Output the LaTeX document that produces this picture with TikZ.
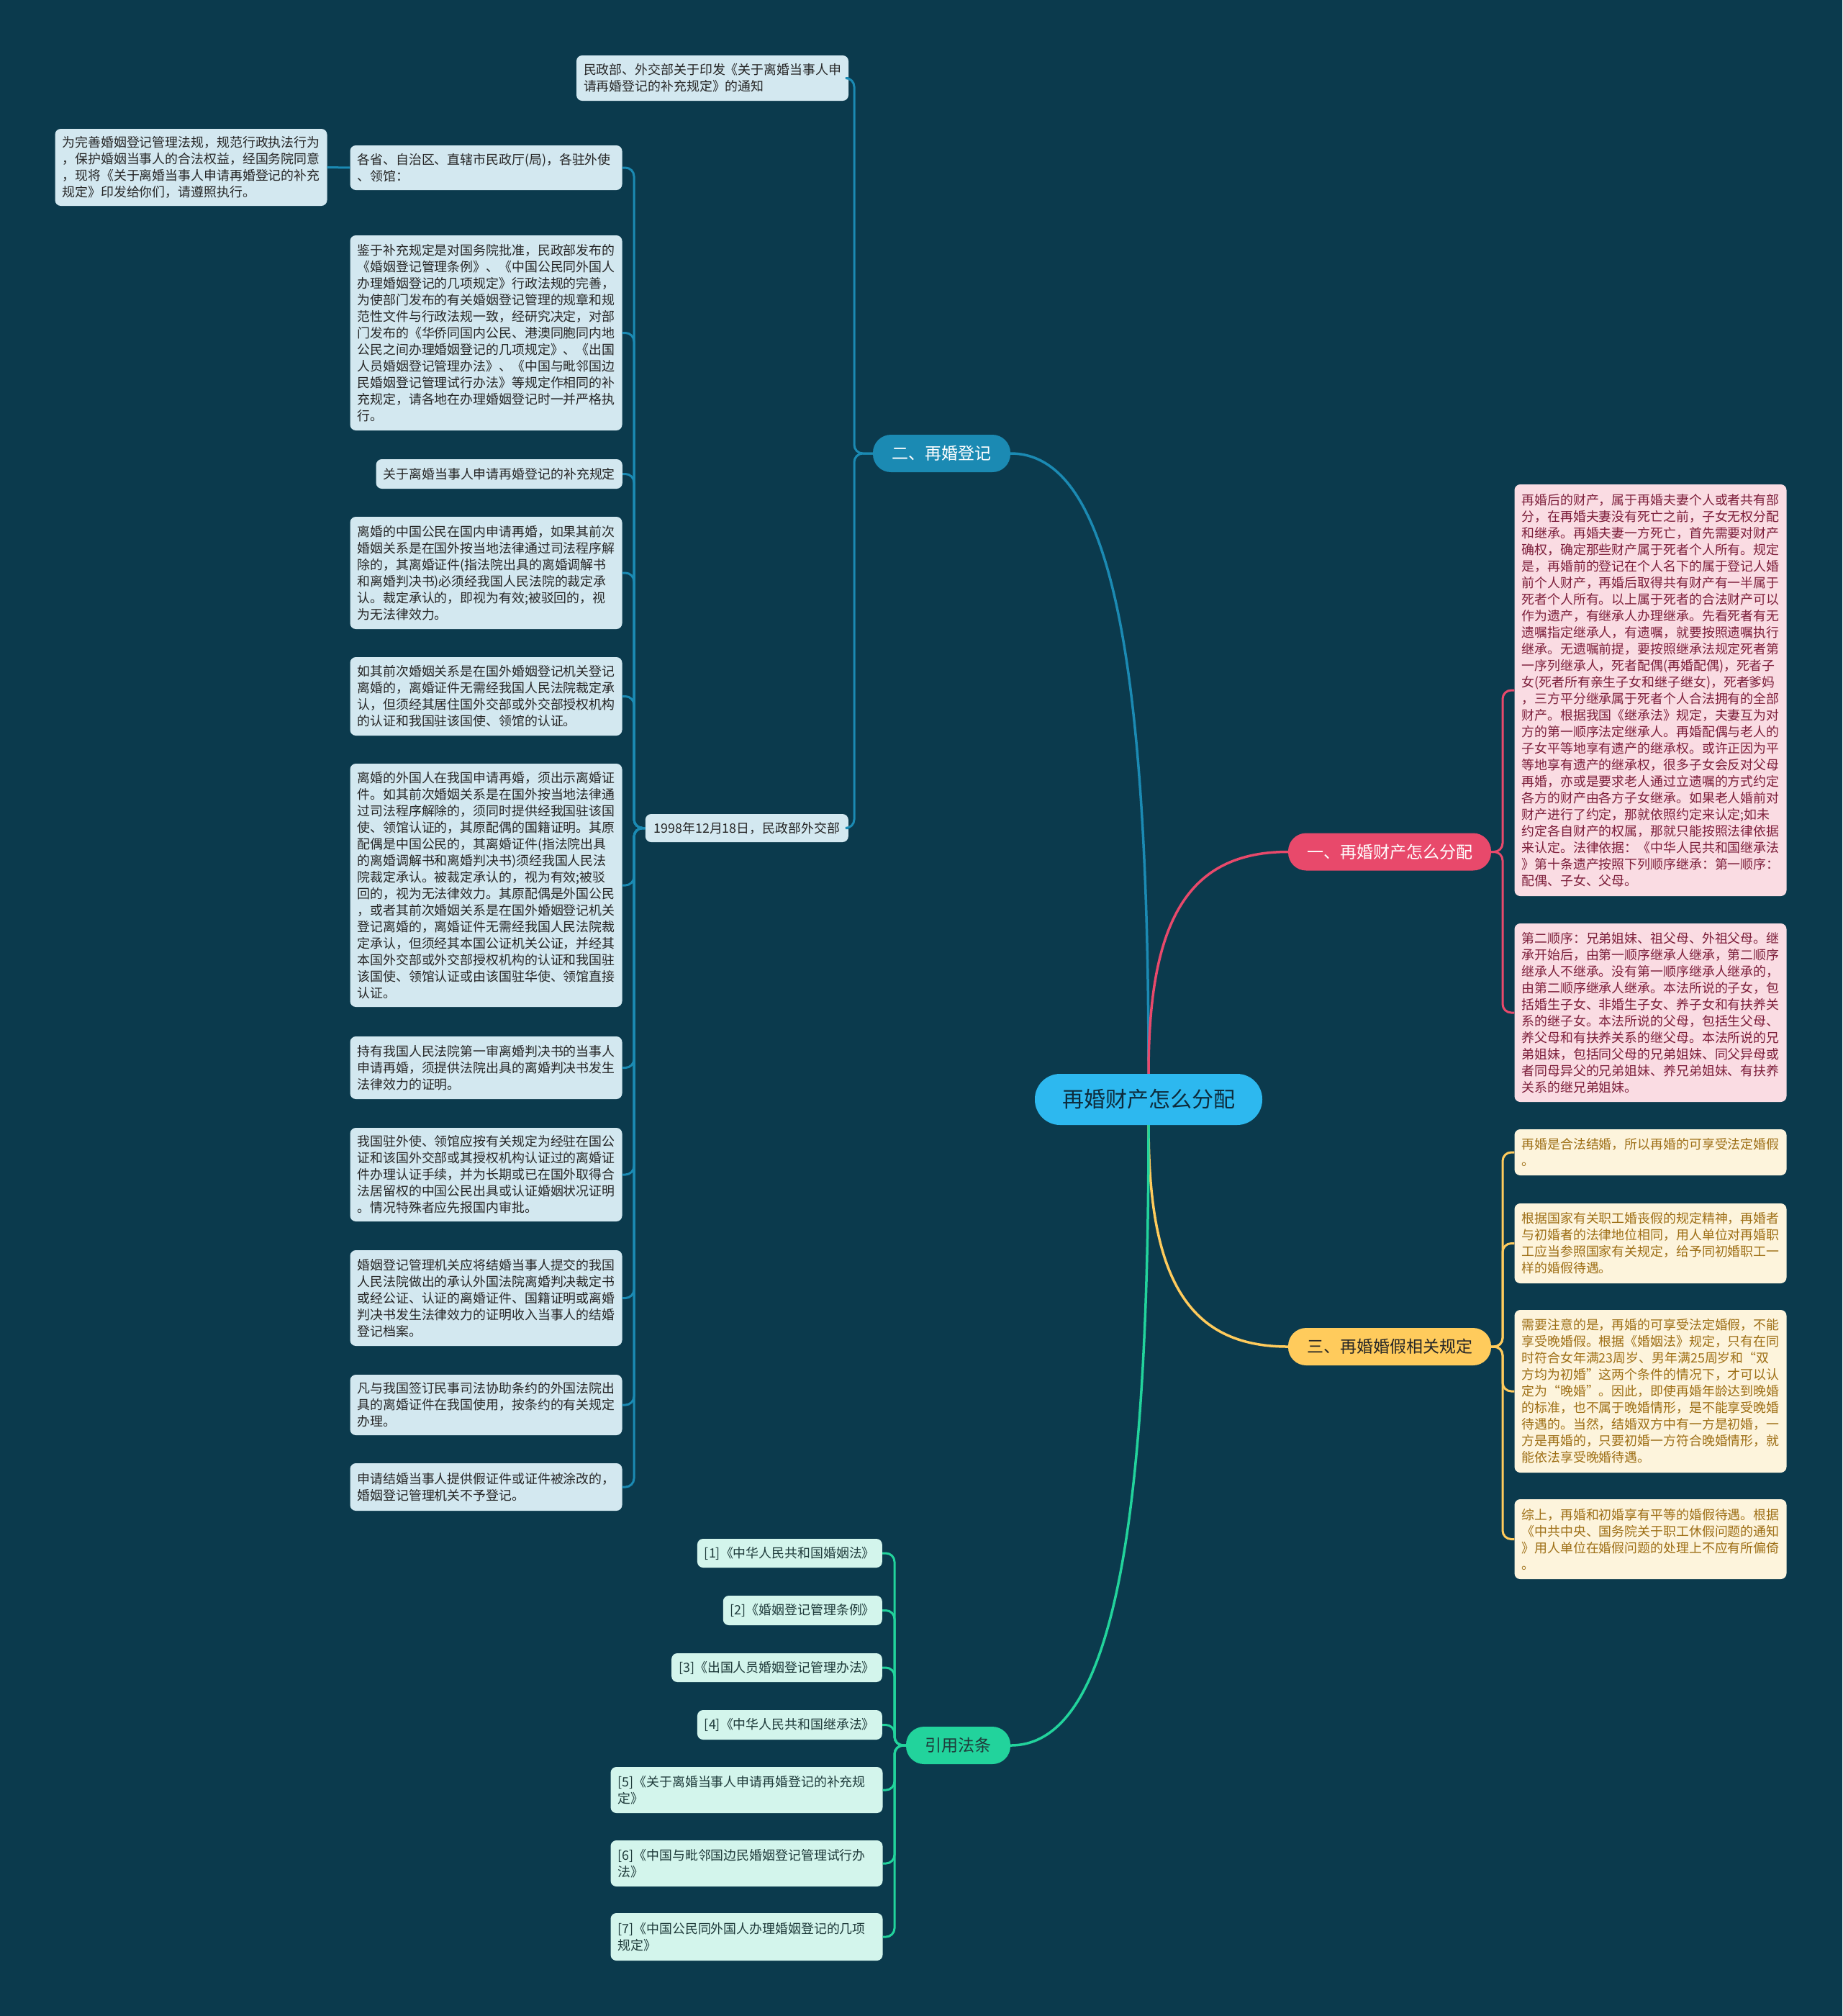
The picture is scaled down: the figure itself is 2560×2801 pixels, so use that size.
\documentclass[tikz,border=0pt]{standalone}
\usepackage{fontspec}
\newfontfamily\cjk{Noto Sans CJK SC}
\definecolor{bg}{HTML}{0B3A4D}
\definecolor{bfill}{HTML}{D3E8F0}
\definecolor{btext}{HTML}{262626}
\definecolor{bline}{HTML}{1B8AB3}
\definecolor{pfill}{HTML}{FADCE3}
\definecolor{ptext}{HTML}{7D1F3B}
\definecolor{pline}{HTML}{E8496B}
\definecolor{yfill}{HTML}{FDF4DC}
\definecolor{ytext}{HTML}{9E6F16}
\definecolor{yline}{HTML}{FFCB5C}
\definecolor{gfill}{HTML}{D3F5EC}
\definecolor{gtext}{HTML}{1F3B3B}
\definecolor{gline}{HTML}{22D39C}
\definecolor{cfill}{HTML}{2DB8EF}
\definecolor{ctext}{HTML}{0D2B3B}
\tikzset{
  box/.style={rounded corners=8pt, inner xsep=10pt, inner ysep=0pt,
    font=\cjk\fontsize{17.9}{23}\selectfont, align=left},
  wide/.style={text width=358pt, minimum width=378pt},
  bluebox/.style={box, fill=bfill, text=btext},
  pinkbox/.style={box, wide, fill=pfill, text=ptext},
  yelbox/.style={box, wide, fill=yfill, text=ytext},
  grnbox/.style={box, fill=gfill, text=gtext},
  branch/.style={rounded corners=25pt, inner sep=0pt, minimum height=52pt,
    font=\cjk\fontsize{23}{26}\selectfont},
  mainline/.style={line width=3.5pt},
  subline/.style={line width=3pt, rounded corners=12pt},
}
\begin{document}
\begin{tikzpicture}[x=1pt,y=-1pt]
\fill[bg] (0,0) rectangle (2560,2801);
\useasboundingbox (0,0) rectangle (2560,2801);

% center and branches
\node[rounded corners=35pt, fill=cfill, text=ctext, minimum width=316pt, minimum height=71pt,
  inner sep=0pt, font=\cjk\fontsize{30}{34}\selectfont] (c) at (1596,1527.5) {再婚财产怎么分配};
\node[branch, fill=bline, text=white, minimum width=191pt] (b2) at (1308.5,630) {二、再婚登记};
\node[branch, fill=pline, text=white, minimum width=282pt] (b1) at (1931,1183.5) {一、再婚财产怎么分配};
\node[branch, fill=yline, text=btext, minimum width=282pt] (b3) at (1931,1871) {三、再婚婚假相关规定};
\node[branch, fill=gline, text=gtext, minimum width=145pt] (g) at (1331.5,2425) {引用法条};

% blue side
\node[bluebox, wide, minimum height=63pt] (mz) at (990,108.5) {民政部、外交部关于印发《关于离婚当事人申\\请再婚登记的补充规定》的通知};
\node[bluebox, anchor=east, minimum height=39pt, minimum width=282pt] (lab) at (1179,1150.5) {1998年12月18日，民政部外交部};
\node[bluebox, wide, minimum height=107pt] (wh) at (265.5,232.5) {为完善婚姻登记管理法规，规范行政执法行为\\，保护婚姻当事人的合法权益，经国务院同意\\，现将《关于离婚当事人申请再婚登记的补充\\规定》印发给你们，请遵照执行。};
\node[bluebox, wide, minimum height=62pt] (gs) at (675.5,233) {各省、自治区、直辖市民政厅(局)，各驻外使\\、领馆：};
\node[bluebox, wide, minimum height=271pt] (jy) at (675.5,462.5) {鉴于补充规定是对国务院批准，民政部发布的\\《婚姻登记管理条例》、《中国公民同外国人\\办理婚姻登记的几项规定》行政法规的完善，\\为使部门发布的有关婚姻登记管理的规章和规\\范性文件与行政法规一致，经研究决定，对部\\门发布的《华侨同国内公民、港澳同胞同内地\\公民之间办理婚姻登记的几项规定》、《出国\\人员婚姻登记管理办法》、《中国与毗邻国边\\民婚姻登记管理试行办法》等规定作相同的补\\充规定，请各地在办理婚姻登记时一并严格执\\行。};
\node[bluebox, anchor=east, minimum height=41pt] (gy) at (865,658.5) {关于离婚当事人申请再婚登记的补充规定};
\node[bluebox, wide, minimum height=156pt] (lz) at (675.5,796) {离婚的中国公民在国内申请再婚，如果其前次\\婚姻关系是在国外按当地法律通过司法程序解\\除的，其离婚证件(指法院出具的离婚调解书\\和离婚判决书)必须经我国人民法院的裁定承\\认。裁定承认的，即视为有效;被驳回的，视\\为无法律效力。};
\node[bluebox, wide, minimum height=109pt] (rq) at (675.5,967.5) {如其前次婚姻关系是在国外婚姻登记机关登记\\离婚的，离婚证件无需经我国人民法院裁定承\\认，但须经其居住国外交部或外交部授权机构\\的认证和我国驻该国使、领馆的认证。};
\node[bluebox, wide, minimum height=338pt] (lw) at (675.5,1230) {离婚的外国人在我国申请再婚，须出示离婚证\\件。如其前次婚姻关系是在国外按当地法律通\\过司法程序解除的，须同时提供经我国驻该国\\使、领馆认证的，其原配偶的国籍证明。其原\\配偶是中国公民的，其离婚证件(指法院出具\\的离婚调解书和离婚判决书)须经我国人民法\\院裁定承认。被裁定承认的，视为有效;被驳\\回的，视为无法律效力。其原配偶是外国公民\\，或者其前次婚姻关系是在国外婚姻登记机关\\登记离婚的，离婚证件无需经我国人民法院裁\\定承认，但须经其本国公证机关公证，并经其\\本国外交部或外交部授权机构的认证和我国驻\\该国使、领馆认证或由该国驻华使、领馆直接\\认证。};
\node[bluebox, wide, minimum height=87pt] (cy) at (675.5,1483.5) {持有我国人民法院第一审离婚判决书的当事人\\申请再婚，须提供法院出具的离婚判决书发生\\法律效力的证明。};
\node[bluebox, wide, minimum height=130pt] (wg) at (675.5,1632) {我国驻外使、领馆应按有关规定为经驻在国公\\证和该国外交部或其授权机构认证过的离婚证\\件办理认证手续，并为长期或已在国外取得合\\法居留权的中国公民出具或认证婚姻状况证明\\。情况特殊者应先报国内审批。};
\node[bluebox, wide, minimum height=133pt] (hy) at (675.5,1803.5) {婚姻登记管理机关应将结婚当事人提交的我国\\人民法院做出的承认外国法院离婚判决裁定书\\或经公证、认证的离婚证件、国籍证明或离婚\\判决书发生法律效力的证明收入当事人的结婚\\登记档案。};
\node[bluebox, wide, minimum height=84pt] (fy) at (675.5,1952) {凡与我国签订民事司法协助条约的外国法院出\\具的离婚证件在我国使用，按条约的有关规定\\办理。};
\node[bluebox, wide, minimum height=66pt] (sq) at (675.5,2066) {申请结婚当事人提供假证件或证件被涂改的，\\婚姻登记管理机关不予登记。};

% pink side
\node[pinkbox, minimum height=572pt] (p1) at (2293.5,959) {再婚后的财产，属于再婚夫妻个人或者共有部\\分，在再婚夫妻没有死亡之前，子女无权分配\\和继承。再婚夫妻一方死亡，首先需要对财产\\确权，确定那些财产属于死者个人所有。规定\\是，再婚前的登记在个人名下的属于登记人婚\\前个人财产，再婚后取得共有财产有一半属于\\死者个人所有。以上属于死者的合法财产可以\\作为遗产，有继承人办理继承。先看死者有无\\遗嘱指定继承人，有遗嘱，就要按照遗嘱执行\\继承。无遗嘱前提，要按照继承法规定死者第\\一序列继承人，死者配偶(再婚配偶)，死者子\\女(死者所有亲生子女和继子继女)，死者爹妈\\，三方平分继承属于死者个人合法拥有的全部\\财产。根据我国《继承法》规定，夫妻互为对\\方的第一顺序法定继承人。再婚配偶与老人的\\子女平等地享有遗产的继承权。或许正因为平\\等地享有遗产的继承权，很多子女会反对父母\\再婚，亦或是要求老人通过立遗嘱的方式约定\\各方的财产由各方子女继承。如果老人婚前对\\财产进行了约定，那就依照约定来认定;如未\\约定各自财产的权属，那就只能按照法律依据\\来认定。法律依据：《中华人民共和国继承法\\》第十条遗产按照下列顺序继承：第一顺序：\\配偶、子女、父母。};
\node[pinkbox, minimum height=248pt] (p2) at (2293.5,1407) {第二顺序：兄弟姐妹、祖父母、外祖父母。继\\承开始后，由第一顺序继承人继承，第二顺序\\继承人不继承。没有第一顺序继承人继承的，\\由第二顺序继承人继承。本法所说的子女，包\\括婚生子女、非婚生子女、养子女和有扶养关\\系的继子女。本法所说的父母，包括生父母、\\养父母和有扶养关系的继父母。本法所说的兄\\弟姐妹，包括同父母的兄弟姐妹、同父异母或\\者同母异父的兄弟姐妹、养兄弟姐妹、有扶养\\关系的继兄弟姐妹。};

% yellow side
\node[yelbox, minimum height=64pt] (y1) at (2293.5,1601) {再婚是合法结婚，所以再婚的可享受法定婚假\\。};
\node[yelbox, minimum height=111pt] (y2) at (2293.5,1727.5) {根据国家有关职工婚丧假的规定精神，再婚者\\与初婚者的法律地位相同，用人单位对再婚职\\工应当参照国家有关规定，给予同初婚职工一\\样的婚假待遇。};
\node[yelbox, minimum height=226pt] (y3) at (2293.5,1933) {需要注意的是，再婚的可享受法定婚假，不能\\享受晚婚假。根据《婚姻法》规定，只有在同\\时符合女年满23周岁、男年满25周岁和“双\\方均为初婚”这两个条件的情况下，才可以认\\定为“晚婚”。因此，即使再婚年龄达到晚婚\\的标准，也不属于晚婚情形，是不能享受晚婚\\待遇的。当然，结婚双方中有一方是初婚，一\\方是再婚的，只要初婚一方符合晚婚情形，就\\能依法享受晚婚待遇。};
\node[yelbox, minimum height=111pt] (y4) at (2293.5,2138.5) {综上，再婚和初婚享有平等的婚假待遇。根据\\《中共中央、国务院关于职工休假问题的通知\\》用人单位在婚假问题的处理上不应有所偏倚\\。};

% green refs
\node[grnbox, anchor=east, minimum height=40pt] (r1) at (1226,2158) {[1]《中华人民共和国婚姻法》};
\node[grnbox, anchor=east, minimum height=41pt] (r2) at (1226,2237.5) {[2]《婚姻登记管理条例》};
\node[grnbox, anchor=east, minimum height=40pt] (r3) at (1226,2317) {[3]《出国人员婚姻登记管理办法》};
\node[grnbox, anchor=east, minimum height=41pt] (r4) at (1226,2396.5) {[4]《中华人民共和国继承法》};
\node[grnbox, wide, minimum height=64pt] (r5) at (1037.5,2487) {[5]《关于离婚当事人申请再婚登记的补充规\\定》};
\node[grnbox, wide, minimum height=64pt] (r6) at (1037.5,2589) {[6]《中国与毗邻国边民婚姻登记管理试行办\\法》};
\node[grnbox, wide, minimum height=66pt] (r7) at (1037.5,2691) {[7]《中国公民同外国人办理婚姻登记的几项\\规定》};

% trunk points
\coordinate (tb) at (1187,630);
\coordinate (tl) at (881,1150.5);
\coordinate (tp) at (2088,1183.5);
\coordinate (ty) at (2088,1871);
\coordinate (tg) at (1243,2425);

% main connectors
\draw[mainline, bline] (c.north) .. controls (1596,900) and (1540,630) .. (b2.east);
\draw[mainline, pline] (c.north) .. controls (1596,1280) and (1650,1183.5) .. (b1.west);
\draw[mainline, yline] (c.south) .. controls (1596,1775) and (1650,1871) .. (b3.west);
\draw[mainline, gline] (c.south) .. controls (1596,2150) and (1540,2425) .. (g.east);

% blue sub connectors
\foreach \t in {mz,lab}
  \draw[subline, bline] (b2.west) -- (tb) |- (\t.east);
\foreach \t in {gs,jy,gy,lz,rq,lw,cy,wg,hy,fy,sq}
  \draw[subline, bline] (lab.west) -- (tl) |- (\t.east);
\draw[subline, bline] (gs.west) -- (wh.east);

% pink
\foreach \t in {p1,p2}
  \draw[subline, pline] (b1.east) -- (tp) |- (\t.west);
% yellow
\foreach \t in {y1,y2,y3,y4}
  \draw[subline, yline] (b3.east) -- (ty) |- (\t.west);
% green
\foreach \t in {r1,r2,r3,r4,r5,r6,r7}
  \draw[subline, gline] (g.west) -- (tg) |- (\t.east);
\end{tikzpicture}
\end{document}
